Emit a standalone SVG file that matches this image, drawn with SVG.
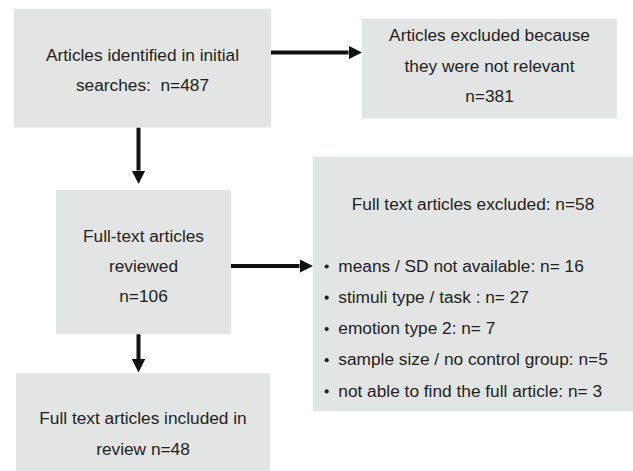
<svg xmlns="http://www.w3.org/2000/svg" width="633" height="471" viewBox="0 0 633 471">
<style>
  .box { fill: #e3e4e4; stroke: none; }
  text { font-family: "Liberation Sans", Arial, sans-serif; font-size: 17.3px; fill: #231f20; }
  .c { text-anchor: middle; }
  .conn { stroke: #111; stroke-width: 4; fill: none; marker-end: url(#ah); }
  .dot { fill: #231f20; }
</style>
<defs>
  <marker id="ah" markerUnits="userSpaceOnUse" markerWidth="14" markerHeight="14" refX="0" refY="6.75" orient="auto" viewBox="0 0 14 14">
    <path d="M0,0 L13.5,6.75 L0,13.5 Z" fill="#111"/>
  </marker>
</defs>
<g id="connectors">
  <line class="conn" x1="271" y1="52.5" x2="348.5" y2="52.5"/>
  <line class="conn" x1="138.5" y1="127.5" x2="138.5" y2="170.5"/>
  <line class="conn" x1="231" y1="266" x2="299.5" y2="266"/>
  <line class="conn" x1="138.5" y1="334" x2="138.5" y2="359"/>
</g>
<g id="identified">
  <rect class="box" x="14" y="9" width="257" height="118.5"/>
  <text class="c" x="142.5" y="61">Articles identified in initial</text>
  <text class="c" x="142.5" y="91" xml:space="preserve">searches:  n=487</text>
</g>
<g id="excluded-irrelevant">
  <rect class="box" x="362" y="19" width="255" height="99.5"/>
  <text class="c" x="489.5" y="40.7">Articles excluded because</text>
  <text class="c" x="489.5" y="71.5">they were not relevant</text>
  <text class="c" x="489.5" y="101.7">n=381</text>
</g>
<g id="reviewed">
  <rect class="box" x="56" y="190" width="175" height="144.3"/>
  <text class="c" x="143.5" y="241.7">Full-text articles</text>
  <text class="c" x="143.5" y="271.7">reviewed</text>
  <text class="c" x="143.5" y="301.7">n=106</text>
</g>
<g id="excluded-fulltext">
  <rect class="box" x="313" y="156.7" width="320" height="254.3"/>
  <text class="c" x="473" y="210">Full text articles excluded: n=58</text>
  <circle class="dot" cx="326.7" cy="266.5" r="2.1"/>
  <text x="338.3" y="271.7">means / SD not available: n= 16</text>
  <circle class="dot" cx="326.7" cy="297.7" r="2.1"/>
  <text x="338.3" y="302.9">stimuli type / task : n= 27</text>
  <circle class="dot" cx="326.7" cy="329" r="2.1"/>
  <text x="338.3" y="334.2">emotion type 2: n= 7</text>
  <circle class="dot" cx="326.7" cy="360.2" r="2.1"/>
  <text x="338.3" y="365.4">sample size / no control group: n=5</text>
  <circle class="dot" cx="326.7" cy="391.4" r="2.1"/>
  <text x="338.3" y="396.6">not able to find the full article: n= 3</text>
</g>
<g id="included">
  <rect class="box" x="16" y="373.3" width="254" height="97.7"/>
  <text class="c" x="143" y="424.3">Full text articles included in</text>
  <text class="c" x="143" y="455.3">review n=48</text>
</g>
</svg>
